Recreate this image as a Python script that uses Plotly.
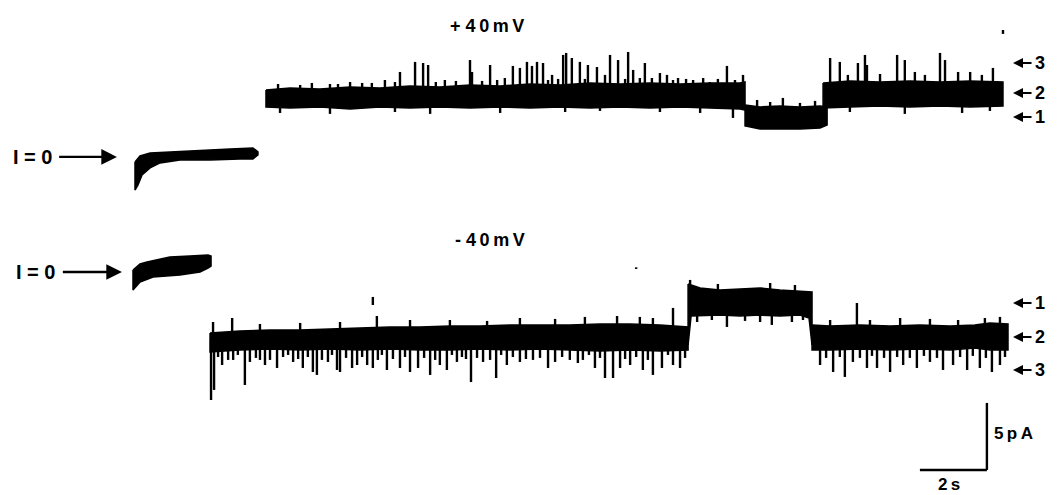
import plotly.graph_objects as go

# ---------------------------------------------------------------
# Single-channel current records.
# Time in seconds, current in pA (relative to each record's I=0).
# ---------------------------------------------------------------

# ---------- +40 mV record ----------
top_zero_t_up = [4.03, 4.18, 4.48, 5.07, 5.97, 6.87, 7.55, 7.70]
top_zero_i_up = [-0.60, -0.15, 0.07, 0.15, 0.30, 0.37, 0.45, 0.15]
top_zero_t_lo = [4.03, 4.12, 4.24, 4.48, 4.78, 5.37, 6.27, 7.16, 7.55, 7.70]
top_zero_i_lo = [-2.69, -2.31, -1.57, -1.04, -0.67, -0.45, -0.45, -0.37, -0.37, -0.07]

top_a_t = [7.94, 8.66, 9.55, 10.45, 11.34, 12.24, 13.13, 14.03, 14.93, 15.82,
           16.72, 17.61, 18.51, 19.40, 20.30, 21.19, 22.09, 22.24]
top_a_up = [4.78, 4.93, 4.85, 5.00, 4.93, 5.07, 5.00, 5.15, 5.07, 5.22,
            5.15, 5.30, 5.22, 5.30, 5.22, 5.30, 5.30, 5.37]
top_a_lo = [3.51, 3.43, 3.51, 3.36, 3.51, 3.43, 3.51, 3.43, 3.51, 3.43,
            3.51, 3.43, 3.51, 3.43, 3.51, 3.43, 3.36, 3.28]

top_b_t = [22.24, 22.69, 23.28, 23.88, 24.48, 24.69]
top_b_up = [3.66, 3.51, 3.58, 3.51, 3.58, 3.51]
top_b_lo = [2.09, 1.87, 1.87, 1.87, 1.94, 2.16]

top_c_t = [24.57, 25.37, 26.27, 27.16, 28.06, 28.96, 29.94]
top_c_up = [5.30, 5.45, 5.37, 5.45, 5.37, 5.45, 5.37]
top_c_lo = [3.43, 3.51, 3.58, 3.51, 3.58, 3.51, 3.58]

# openings (upward events) and brief closings (downward events)
top_a_spk_t = [8.96, 9.85, 10.45, 11.10, 11.49, 11.94, 12.39, 12.63, 12.78, 13.28,
               14.03, 14.09, 14.63, 15.07, 15.31, 15.52, 15.73, 15.88, 16.03, 16.21,
               16.48, 16.81, 16.90, 17.07, 17.31, 17.55, 17.82, 18.06, 18.21, 18.45,
               18.75, 18.90, 19.25, 19.46, 19.70, 19.91, 20.24, 20.69, 21.19, 21.70,
               22.18,
               8.30, 9.31, 10.09, 10.81, 11.79, 13.01, 13.61, 14.39, 14.84, 16.36,
               16.66, 17.46, 18.66, 19.10, 20.09, 20.48, 20.99, 21.43, 21.94]
top_a_spk_i = [5.15, 5.22, 5.37, 5.30, 5.52, 6.12, 6.87, 6.79, 6.64, 5.52,
               7.01, 6.12, 6.64, 5.67, 6.57, 6.42, 6.87, 6.57, 6.87, 6.79,
               5.90, 7.39, 7.54, 7.16, 6.87, 6.64, 6.49, 5.90, 7.39, 7.01,
               7.61, 6.27, 6.79, 5.67, 6.04, 5.90, 5.67, 5.52, 5.37, 6.57,
               5.90,
               5.22, 5.30, 5.22, 5.30, 5.37, 5.37, 5.45, 5.45, 5.52, 5.52,
               5.60, 5.60, 5.60, 5.67, 5.52, 5.60, 5.67, 5.60, 5.52]
top_a_dn_t = [8.36, 9.85, 11.79, 12.84, 14.93, 16.87, 17.91, 19.70, 20.90, 21.88]
top_a_dn_i = [3.06, 2.99, 3.13, 2.99, 3.06, 3.13, 3.21, 3.13, 3.06, 2.69]

top_b_spk_t = [22.60, 22.99, 23.37, 23.88, 24.33]
top_b_spk_i = [4.03, 3.88, 4.18, 3.81, 3.96]

top_c_spk_t = [24.78, 25.07, 25.31, 25.61, 25.82, 25.88, 26.27, 26.78, 27.01, 27.31,
               27.61, 28.06, 28.21, 28.60, 28.96, 29.31, 29.64]
top_c_spk_i = [7.16, 6.87, 5.90, 6.79, 7.39, 6.64, 5.97, 7.39, 7.01, 6.12,
               5.90, 7.54, 7.01, 6.12, 6.12, 5.90, 6.42]
top_c_dn_t = [25.37, 27.01, 28.72, 29.55]
top_c_dn_i = [3.13, 2.99, 3.06, 3.21]

top_level_i = [2.76, 4.55, 6.79]          # levels 1, 2, 3

# ---------- -40 mV record ----------
bot_zero_t_up = [3.97, 4.18, 4.39, 4.78, 5.07, 5.67, 6.21, 6.30]
bot_zero_i_up = [-0.60, -0.15, 0.00, 0.22, 0.37, 0.45, 0.52, 0.45]
bot_zero_t_lo = [3.97, 4.18, 4.57, 5.37, 5.97, 6.21, 6.30]
bot_zero_i_lo = [-2.09, -1.49, -1.12, -0.97, -0.75, -0.45, -0.30]

bot_a_t = [6.27, 7.16, 8.06, 8.96, 9.85, 10.75, 11.64, 12.54, 13.43, 14.33,
           15.22, 16.12, 17.01, 17.91, 18.81, 19.70, 20.54]
bot_a_up = [-5.30, -5.15, -5.07, -5.07, -5.00, -4.93, -4.85, -4.85, -4.78, -4.78,
            -4.70, -4.70, -4.70, -4.63, -4.63, -4.70, -4.85]
bot_a_lo = [-6.72, -6.57, -6.49, -6.57, -6.49, -6.57, -6.49, -6.57, -6.57, -6.49,
            -6.57, -6.49, -6.57, -6.64, -6.57, -6.64, -6.57]

bot_b_t_up = [20.54, 20.90, 21.49, 22.09, 22.69, 23.28, 23.88, 24.24]
bot_b_up = [-1.64, -1.94, -2.09, -2.01, -1.94, -2.09, -2.16, -2.24]
bot_b_t_lo = [20.54, 20.63, 20.90, 21.49, 22.09, 22.69, 23.28, 23.88, 24.15, 24.24]
bot_b_lo = [-6.19, -4.03, -4.03, -3.96, -4.03, -3.96, -4.03, -3.96, -4.18, -6.19]

bot_c_t = [24.24, 24.78, 25.67, 26.57, 27.46, 28.36, 29.10, 29.55, 30.09]
bot_c_up = [-4.70, -4.78, -4.70, -4.78, -4.70, -4.78, -4.70, -4.55, -4.63]
bot_c_lo = [-6.57, -6.57, -6.49, -6.57, -6.49, -6.57, -6.42, -6.57, -6.57]

bot_a_dn_t = [6.30, 6.39, 6.63, 6.96, 7.31, 7.46, 7.91, 8.06, 8.27, 8.75,
              9.04, 9.34, 9.46, 9.79, 10.06, 10.15, 10.51, 10.66, 10.96, 11.13,
              11.55, 11.94, 12.24, 12.48, 12.84, 13.13, 13.34, 13.64, 14.06, 14.42,
              14.81, 15.13, 15.52, 15.91, 16.36, 16.57, 17.25, 17.40, 17.76, 18.06,
              18.30, 18.51, 18.81, 19.19, 19.49, 19.76, 20.09, 20.30,
              6.51, 6.81, 7.10, 7.64, 7.76, 8.45, 8.60, 8.90, 9.19, 9.61,
              9.91, 10.33, 10.81, 11.28, 11.40, 11.73, 12.09, 12.66, 12.99, 13.49,
              13.79, 13.91, 14.24, 14.63, 14.96, 15.31, 15.70, 16.12, 16.78, 17.01,
              17.58, 17.91, 18.66, 18.99, 19.34, 19.94, 20.45]
bot_a_dn_i = [-10.30, -9.55, -7.69, -7.31, -9.18, -7.46, -7.69, -7.31, -7.91, -7.46,
              -7.91, -8.21, -8.43, -7.46, -8.06, -8.21, -7.91, -7.69, -7.69, -7.91,
              -8.06, -7.91, -8.21, -7.91, -8.43, -7.69, -8.06, -7.46, -8.96, -7.46,
              -8.66, -7.69, -7.46, -7.31, -7.91, -7.46, -7.54, -7.31, -7.91, -8.66,
              -8.66, -7.91, -7.69, -8.06, -8.43, -7.91, -7.69, -7.91,
              -7.09, -7.31, -6.94, -7.16, -7.31, -7.09, -6.94, -7.24, -7.09, -7.31,
              -6.94, -7.16, -7.09, -7.31, -6.94, -7.24, -7.09, -7.16, -7.31, -6.94,
              -7.09, -7.24, -7.16, -7.31, -6.94, -7.09, -7.24, -7.16, -7.09, -7.31,
              -6.94, -7.16, -7.24, -7.09, -7.31, -6.94, -7.16]
bot_a_up_t = [6.36, 6.93, 7.76, 8.96, 10.15, 11.25, 12.24, 13.43, 14.54, 15.52,
              16.57, 17.46, 18.42, 19.10, 19.49, 20.09]
bot_a_up_i = [-4.48, -4.18, -4.63, -4.55, -4.48, -4.03, -4.33, -4.33, -4.40, -4.18,
              -4.25, -4.10, -4.03, -4.10, -4.18, -3.43]

bot_b_dn_t = [20.81, 21.25, 21.70, 22.24, 22.69, 23.04, 23.64, 23.97]
bot_b_dn_i = [-4.48, -4.33, -4.85, -4.40, -4.48, -4.70, -4.48, -4.33]
bot_b_up_t = [20.60, 21.43, 22.99, 23.73]
bot_b_up_i = [-1.34, -1.64, -1.57, -1.72]

bot_c_dn_t = [24.48, 24.87, 25.22, 25.46, 25.88, 26.18, 26.57, 26.96, 27.37, 27.76,
              28.15, 28.45, 28.87, 29.25, 29.61, 29.85,
              24.66, 25.07, 25.67, 26.03, 26.39, 26.78, 27.16, 27.58, 27.97, 28.66,
              29.04, 29.43, 30.00]
bot_c_dn_i = [-7.69, -8.21, -8.58, -7.46, -7.91, -7.91, -8.21, -7.69, -7.91, -7.46,
              -8.06, -7.69, -8.06, -7.91, -8.21, -7.69,
              -7.16, -7.09, -7.16, -7.01, -7.16, -7.09, -7.16, -7.01, -7.16, -7.09,
              -7.01, -7.16, -7.09]
bot_c_up_t = [24.78, 25.58, 25.97, 26.87, 27.76, 28.60, 29.40, 29.85]
bot_c_up_i = [-4.33, -3.06, -4.33, -4.18, -4.25, -4.33, -4.18, -4.10]

bot_level_i = [-3.06, -5.60, -8.06]       # levels 1, 2, 3

# isolated specks on the records: (time, i_from, i_to)
top_specks = [(29.94, 9.25, 8.96)]
bot_specks = [(11.13, -2.61, -3.21), (18.99, -0.40, -0.52)]

# scale bars
scale_t = 2.0   # s
scale_i = 5.0   # pA

# ---------------------------------------------------------------
OFF_TOP = 0.0
OFF_BOT = -8.06      # vertical separation of the two records (display only)
INK = "#000000"
FONT = "Liberation Sans, Arial, sans-serif"

fig = go.Figure()


def band(t_up, i_up, t_lo, i_lo, off):
    xs = list(t_up) + list(t_lo)[::-1] + [t_up[0]]
    ys = [v + off for v in i_up] + [v + off for v in i_lo][::-1] + [i_up[0] + off]
    fig.add_trace(go.Scatter(x=xs, y=ys, mode="lines", fill="toself",
                             fillcolor=INK, line=dict(color=INK, width=1.5),
                             hoverinfo="skip"))


def events(ts, tips, base, off, width=2.4):
    xs, ys = [], []
    for t, v in zip(ts, tips):
        xs += [t, t, None]
        ys += [base + off, v + off, None]
    fig.add_trace(go.Scatter(x=xs, y=ys, mode="lines",
                             line=dict(color=INK, width=width), hoverinfo="skip"))


# +40 mV
band(top_zero_t_up, top_zero_i_up, top_zero_t_lo, top_zero_i_lo, OFF_TOP)
band(top_a_t, top_a_up, top_a_t, top_a_lo, OFF_TOP)
band(top_b_t, top_b_up, top_b_t, top_b_lo, OFF_TOP)
band(top_c_t, top_c_up, top_c_t, top_c_lo, OFF_TOP)
events(top_a_spk_t, top_a_spk_i, 4.6, OFF_TOP)
events(top_a_dn_t, top_a_dn_i, 4.0, OFF_TOP)
events(top_b_spk_t, top_b_spk_i, 3.0, OFF_TOP)
events(top_c_spk_t, top_c_spk_i, 4.6, OFF_TOP)
events(top_c_dn_t, top_c_dn_i, 4.0, OFF_TOP)
events([s[0] for s in top_specks], [s[2] for s in top_specks], top_specks[0][1], OFF_TOP)

# -40 mV
band(bot_zero_t_up, bot_zero_i_up, bot_zero_t_lo, bot_zero_i_lo, OFF_BOT)
band(bot_a_t, bot_a_up, bot_a_t, bot_a_lo, OFF_BOT)
band(bot_b_t_up, bot_b_up, bot_b_t_lo, bot_b_lo, OFF_BOT)
band(bot_c_t, bot_c_up, bot_c_t, bot_c_lo, OFF_BOT)
events(bot_a_dn_t, bot_a_dn_i, -5.8, OFF_BOT)
events(bot_a_up_t, bot_a_up_i, -5.4, OFF_BOT)
events(bot_b_dn_t, bot_b_dn_i, -3.3, OFF_BOT)
events(bot_b_up_t, bot_b_up_i, -2.6, OFF_BOT)
events(bot_c_dn_t, bot_c_dn_i, -5.8, OFF_BOT)
events(bot_c_up_t, bot_c_up_i, -5.4, OFF_BOT)
for t, a, b in bot_specks:
    fig.add_trace(go.Scatter(x=[t, t], y=[a + OFF_BOT, b + OFF_BOT], mode="lines",
                             line=dict(color=INK, width=2.4), hoverinfo="skip"))

# scale bars (corner at t=29.46 s, display level -23.58)
SB_T, SB_I = 29.46, -23.58
fig.add_trace(go.Scatter(x=[SB_T - scale_t, SB_T], y=[SB_I, SB_I], mode="lines",
                         line=dict(color=INK, width=2.4), hoverinfo="skip"))
fig.add_trace(go.Scatter(x=[SB_T, SB_T], y=[SB_I, SB_I + scale_i], mode="lines",
                         line=dict(color=INK, width=2.4), hoverinfo="skip"))

ann = []
# record titles
ann.append(dict(x=14.54, y=9.55, text="<b>+ 4\u20090\u2009m\u2009V</b>", showarrow=False,
                font=dict(size=18, family=FONT, color=INK)))
ann.append(dict(x=14.63, y=-6.42, text="<b>- 4\u20090\u2009m\u2009V</b>", showarrow=False,
                font=dict(size=18, family=FONT, color=INK)))
# I = 0 arrows
for head_t, tail_t, yv in [(3.49, 0.96, -0.22 + OFF_TOP), (3.64, 1.07, -0.75 + OFF_BOT)]:
    ann.append(dict(x=head_t, y=yv, ax=tail_t, ay=yv, axref="x", ayref="y",
                    text="<b>I = 0</b>", showarrow=True, arrowhead=2, arrowsize=1.3,
                    arrowwidth=2.4, arrowcolor=INK, startstandoff=6, standoff=0,
                    font=dict(size=20, family=FONT, color=INK)))
# level markers
for levels, off in [(top_level_i, OFF_TOP), (bot_level_i, OFF_BOT)]:
    for n, lv in enumerate(levels, start=1):
        ann.append(dict(x=30.24, y=lv + off, ax=27, ay=0, text="<b>%d</b>" % n,
                        showarrow=True, arrowhead=2, arrowsize=1, arrowwidth=2,
                        arrowcolor=INK, startstandoff=2, standoff=0,
                        font=dict(size=18, family=FONT, color=INK)))
# scale-bar labels
ann.append(dict(x=SB_T + 0.15, y=SB_I + scale_i / 2 + 0.2, text="<b>5\u2009p\u2009A</b>",
                showarrow=False, xanchor="left",
                font=dict(size=17, family=FONT, color=INK)))
ann.append(dict(x=SB_T - scale_t / 2 - 0.12, y=SB_I - 1.05, text="<b>2\u2009s</b>",
                showarrow=False, font=dict(size=17, family=FONT, color=INK)))

# The page body keeps its default 8 px margin, so the figure is 8 px smaller
# and the visible ranges start 8 px further in, keeping the 33.5 px/s and
# 13.4 px/pA scale of the original.
fig.update_layout(
    width=1053, height=487,
    margin=dict(l=0, r=0, t=0, b=0),
    paper_bgcolor="white", plot_bgcolor="white",
    showlegend=False,
    xaxis=dict(range=[0.239, 31.672], visible=False, fixedrange=True),
    yaxis=dict(range=[-25.45, 10.893], visible=False, fixedrange=True),
    annotations=ann,
)

fig.write_html("out.html")
